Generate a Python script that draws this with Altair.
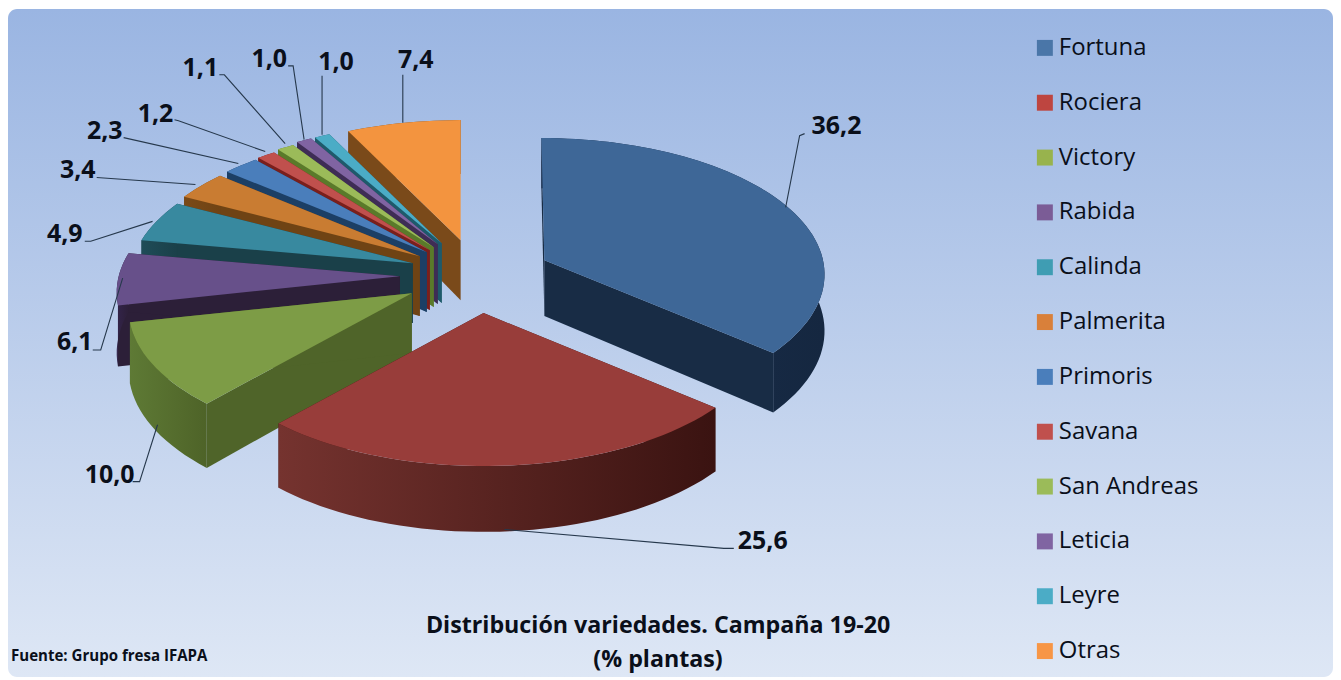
import math
import altair as alt

# ---- data ----
names = ["Fortuna", "Rociera", "Victory", "Rabida", "Calinda", "Palmerita",
         "Primoris", "Savana", "San Andreas", "Leticia", "Leyre", "Otras"]
values = [36.2, 25.6, 10.0, 6.1, 4.9, 3.4, 2.3, 1.2, 1.1, 1.0, 1.0, 7.4]
labels = ["36,2", "25,6", "10,0", "6,1", "4,9", "3,4", "2,3", "1,2", "1,1", "1,0", "1,0", "7,4"]

# ---- styles ----
legend_colors = ["#4A76A8", "#BE4540", "#98B34D", "#7B5C96", "#3F9DB3", "#D9803A",
                 "#4A7EBB", "#C0504D", "#9BBB59", "#8064A2", "#4BACC6", "#F79646"]
top_colors = ["#3E6797", "#983D3A", "#7D9C46", "#67508A", "#38899F", "#C97C32",
              "#4A7EBB", "#C0504D", "#9BBB59", "#8064A2", "#4BACC6", "#F3943F"]
side_colors = ["#182C45", "#3D1512", "#4F6429", "#2C1F38", "#1A4049", "#6F4314",
               "#1C3F65", "#7A1F1C", "#5A7A2A", "#3E2D55", "#1E5A6B", "#7A4A1A"]
wall_left = ["#1A3150", "#75332F", "#5E7A35", "#33244A", "#1F4C58", "#7A4A18",
             "#1C3F65", "#7A1F1C", "#5A7A2A", "#3E2D55", "#1E5A6B", "#7A4A1A"]
wall_right = ["#152740", "#3A1311", "#4E6328", "#2C1F38", "#1A4049", "#6F4314",
              "#1C3F65", "#7A1F1C", "#5A7A2A", "#3E2D55", "#1E5A6B", "#7A4A1A"]

# ---- layout (page pixels) ----
OFF = 8
W, H = 1329, 670
apex = [(545, 260), (484, 313), (412, 293), (400, 276), (413, 263), (420, 256),
        (427, 252), (430, 250), (434, 247), (438, 244), (442, 243), (461, 240)]
rim_center = [(542, 258)] + apex[1:]
RX, RY, PERSP = 282, 137, 0.12
depths = [56, 60, 60, 60, 60, 60, 60, 60, 60, 60, 60, 60]
draw_order = [11, 10, 9, 8, 7, 6, 5, 4, 3, 2, 0, 1]
label_pos = [(839, 124), (765, 541), (110, 474), (75, 341), (65, 233), (78, 169),
             (105, 129), (156, 112), (201, 66), (270, 57), (337, 60), (417, 58)]
leaders = [
    [(806, 133), (801, 135), (787, 207)],
    [(735, 549), (725, 549), (505, 530)],
    [(132, 482), (139, 482), (157, 425)],
    [(92, 350), (100, 350), (122, 278)],
    [(84, 241), (90, 241), (152, 221)],
    [(96, 177), (195, 184)],
    [(123, 137), (238, 163)],
    [(174, 119), (178, 120), (265, 151)],
    [(219, 74), (224, 74), (285, 143)],
    [(288, 65), (293, 65), (304, 139)],
    [(322, 75), (322, 134)],
    [(403, 74), (403, 122)],
]

proj = dict(type="identity", scale=1, translate=[-OFF + 1, -OFF])


def rim(i, deg):
    t = math.radians(deg)
    s = 1 - PERSP * math.cos(t)
    cx, cy = rim_center[i]
    return (cx + RX * math.sin(t) * s, cy - RY * math.cos(t) * s)


def drop(i, p, deg=None):
    d = depths[i] if deg is None else depths[i] * (1 - 0.1 * math.cos(math.radians(deg)))
    return (p[0], p[1] + d)


def poly(points, **props):
    pts = [list(p) for p in points] + [list(points[0])]
    return {"type": "Feature", "properties": props,
            "geometry": {"type": "Polygon", "coordinates": [pts]}}


def grad(c0, c1, vertical=False):
    return alt.LinearGradient(
        gradient="linear", x1=0, x2=0 if vertical else 1, y1=0, y2=1 if vertical else 0,
        stops=[alt.GradientStop(offset=0, color=c0), alt.GradientStop(offset=1, color=c1)])


total = sum(values)
starts, ends, acc = [], [], 0.0
for v in values:
    starts.append(acc / total * 360)
    acc += v
    ends.append(acc / total * 360)

layers = []
bg = alt.Chart(alt.Data(values=[{"a": 1}])).mark_rect(
    cornerRadius=9, fill=grad("#9AB5E2", "#DEE7F5", vertical=True),
).encode(x=alt.value(0), x2=alt.value(W), y=alt.value(0), y2=alt.value(H))
layers.append(bg)


def geo_json(rows):
    return alt.Data(values=rows, format=alt.DataFormat(type="json"))


for i in draw_order:
    a, b = starts[i], ends[i]
    n = max(4, int((b - a) / 2))
    degs = [a + (b - a) * k / n for k in range(n + 1)]
    arc = [rim(i, d) for d in degs]
    wall = poly(arc + [drop(i, p, d) for p, d in zip(reversed(arc), reversed(degs))], name=names[i])
    ap = apex[i]
    sides = [
        poly([ap, arc[0], drop(i, arc[0], a), drop(i, ap)], fill=side_colors[i]),
        poly([ap, arc[-1], drop(i, arc[-1], b), drop(i, ap)], fill=side_colors[i]),
    ]
    top = [poly([ap] + arc, fill=top_colors[i])]
    layers.append(
        alt.Chart(geo_json(sides)).mark_geoshape(strokeWidth=0)
        .encode(fill=alt.Fill("properties.fill:N", scale=None, legend=None)).project(**proj)
    )
    layers.append(
        alt.Chart(geo_json([wall])).mark_geoshape(
            strokeWidth=0, fill=grad(wall_left[i], wall_right[i]),
        ).project(**proj)
    )
    layers.append(
        alt.Chart(geo_json(top)).mark_geoshape(strokeWidth=0)
        .encode(fill=alt.Fill("properties.fill:N", scale=None, legend=None)).project(**proj)
    )

line_features = [{"type": "Feature", "properties": {},
                  "geometry": {"type": "LineString", "coordinates": [list(p) for p in pts]}}
                 for pts in leaders]
layers.append(
    alt.Chart(geo_json(line_features)).mark_geoshape(
        filled=False, stroke="#26384C", strokeWidth=1.1
    ).project(**proj)
)

label_rows = [{"t": t, "x": p[0] - OFF, "y": p[1] - OFF + 1} for t, p in zip(labels, label_pos)]
layers.append(
    alt.Chart(alt.Data(values=label_rows)).mark_text(
        font="Open Sans", fontWeight="bold", fontSize=25, color="#0A0F1A",
        align="center", baseline="middle"
    ).encode(x=alt.X("x:Q", scale=None, axis=None), y=alt.Y("y:Q", scale=None, axis=None),
             text="t:N")
)

text_rows = [
    {"t": "Distribución variedades. Campaña 19-20", "x": 660 - OFF, "y": 627 - OFF},
    {"t": "(% plantas)", "x": 660 - OFF, "y": 661 - OFF},
]
layers.append(
    alt.Chart(alt.Data(values=text_rows)).mark_text(
        font="Open Sans", fontWeight="bold", fontSize=23.3, color="#0A0F1A",
        align="center", baseline="middle"
    ).encode(x=alt.X("x:Q", scale=None, axis=None), y=alt.Y("y:Q", scale=None, axis=None), text="t:N")
)
layers.append(
    alt.Chart(alt.Data(values=[{"t": "Fuente: Grupo fresa IFAPA", "x": 11 - OFF, "y": 657 - OFF}])).mark_text(
        font="Open Sans", fontWeight="bold", fontSize=15.1, color="#0A0F1A",
        align="left", baseline="middle"
    ).encode(x=alt.X("x:Q", scale=None, axis=None), y=alt.Y("y:Q", scale=None, axis=None), text="t:N")
)

# legend carrier: zero-size points, only their legend shows
legend_rows = [{"name": n, "v": v} for n, v in zip(names, values)]
layers.append(
    alt.Chart(alt.Data(values=legend_rows)).mark_square(size=0, filled=True).encode(
        x=alt.value(-100), y=alt.value(-100),
        color=alt.Color("name:N", sort=names,
                        scale=alt.Scale(domain=names, range=legend_colors),
                        legend=alt.Legend(
                            title=None, orient="none", legendX=1036 - OFF, legendY=35 - OFF,
                            symbolType="square", symbolSize=256, symbolStrokeWidth=0, symbolOpacity=1,
                            labelFont="Open Sans", labelFontSize=24, labelColor="#0A0F1A",
                            labelOffset=2, rowPadding=31, labelLimit=300, padding=0,
                        )),
    )
)

chart = alt.layer(*layers).properties(
    width=W, height=H, padding=0, autosize=alt.AutoSizeParams(type="none"),
    background="white",
).configure_view(stroke=None)

chart.save("out.html", embed_options={"renderer": "svg", "actions": False})
